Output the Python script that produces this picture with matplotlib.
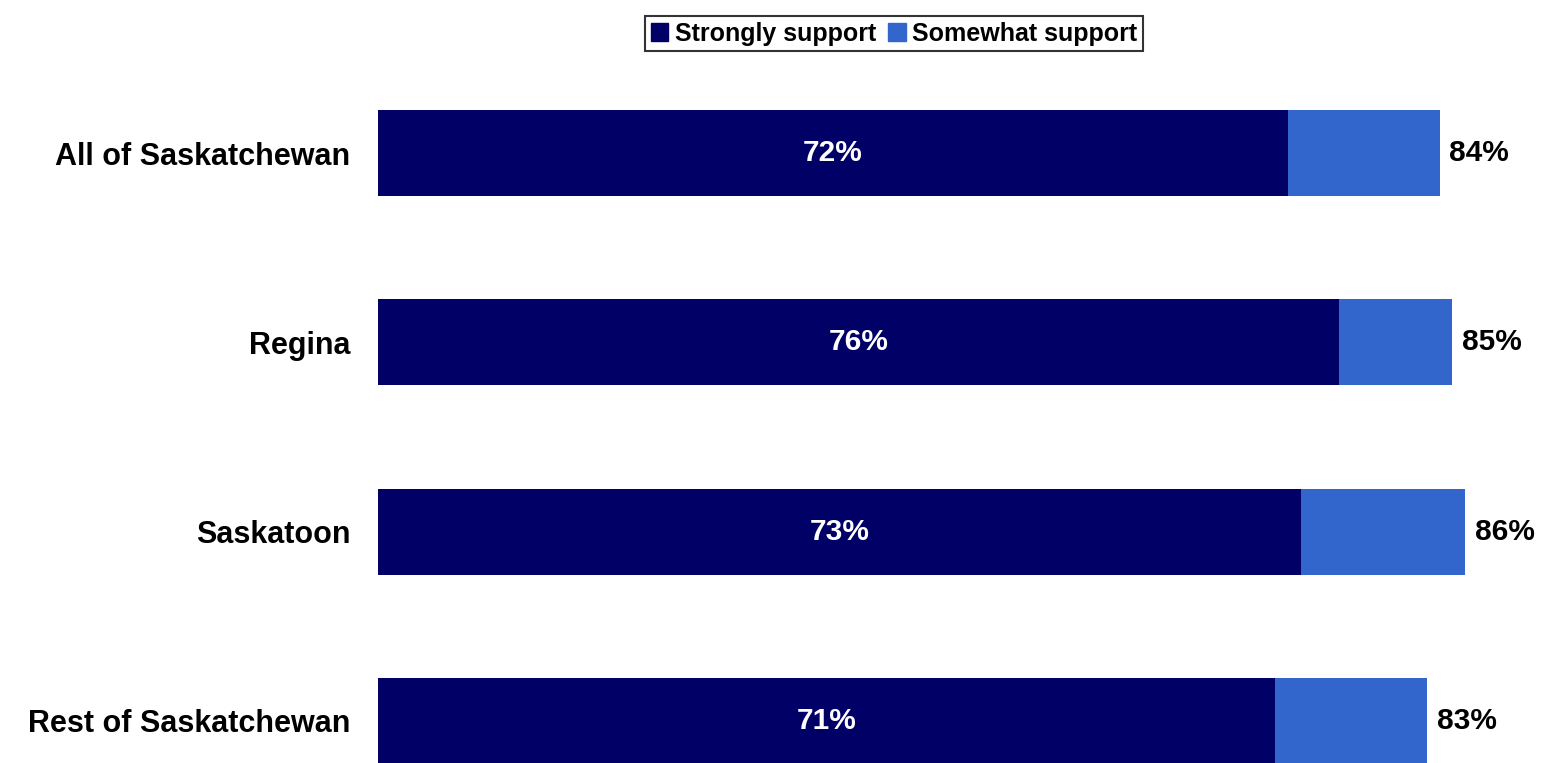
import numpy as np
import matplotlib
matplotlib.use("Agg")
import matplotlib.pyplot as plt
from matplotlib.patches import Patch

regions = ["All of Saskatchewan", "Regina", "Saskatoon", "Rest of Saskatchewan"]
strongly = [72, 76, 73, 71]
somewhat = [12, 9, 13, 12]
totals = [84, 85, 86, 83]

c_strong = "#000066"
c_some = "#3366CC"

plt.rcParams["font.family"] = ["Liberation Sans", "DejaVu Sans"]
plt.rcParams["font.weight"] = "bold"

fig = plt.figure(figsize=(15.47, 7.63), dpi=100)
W, H = 1547, 763
ax = fig.add_axes([378 / W, 0, 1 - 378 / W, 1])

y = np.arange(len(regions))
h = 0.454
ax.barh(y, strongly, height=h, color=c_strong, label="Strongly support")
ax.barh(y, somewhat, left=strongly, height=h, color=c_some, label="Somewhat support")

for i in range(len(regions)):
    ax.text(strongly[i] / 2, y[i], f"{strongly[i]}%", ha="center", va="center",
            color="white", fontsize=21.5, fontweight="bold")
    ax.text(totals[i] + 0.75, y[i], f"{totals[i]}%", ha="left", va="center",
            color="black", fontsize=21.5, fontweight="bold")

ax.set_xlim(0, 1169 / 12.64)
ax.set_ylim(3 + 42 / 189.3, -153 / 189.3)
ax.set_yticks(y)
ax.set_yticklabels(regions, fontsize=22, fontweight="bold")
ax.tick_params(axis="y", length=0, pad=20)
ax.set_xticks([])
for s in ax.spines.values():
    s.set_visible(False)

handles = [Patch(color=c_strong, label="Strongly support"),
           Patch(color=c_some, label="Somewhat support")]
leg = fig.legend(handles=handles, loc="center", bbox_to_anchor=(894 / W, 1 - 33.5 / H),
                 ncol=2, frameon=True, fancybox=False, edgecolor="black",
                 fontsize=18, handlelength=0.7, handleheight=0.7,
                 handletextpad=0.25, columnspacing=0.5, borderpad=0.22,
                 borderaxespad=0)
leg.get_frame().set_linewidth(1.5)

fig.savefig("out.png", dpi=100)
